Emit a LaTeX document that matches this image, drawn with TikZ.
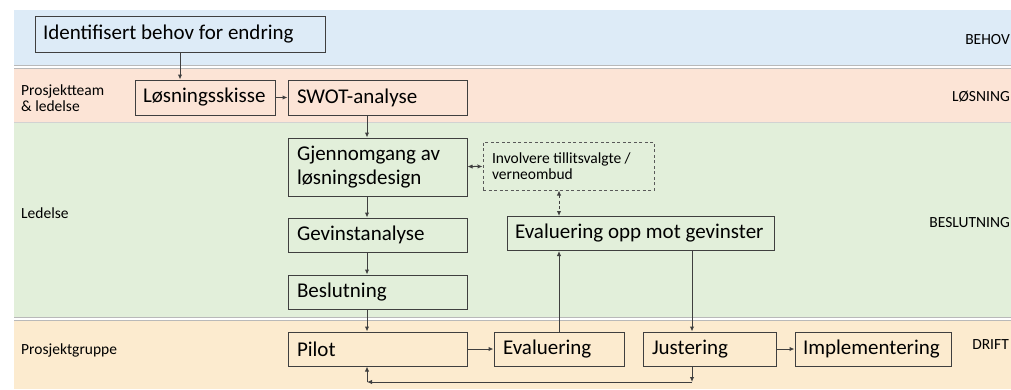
\documentclass[tikz,border=0pt]{standalone}
\usepackage{fontspec}
\setmainfont{Carlito}
\usetikzlibrary{positioning, arrows.meta}
\definecolor{bandBlue}{HTML}{DDEBF7}
\definecolor{bandSalmon}{HTML}{FCE4D6}
\definecolor{bandGreen}{HTML}{E2EFDA}
\definecolor{bandYellow}{HTML}{FCEBCF}
\definecolor{boxLine}{HTML}{3F3F3F}
\begin{document}
\begin{tikzpicture}[x=1pt, y=-1pt,
    box/.style={rectangle, draw=boxLine, line width=1pt, inner xsep=9pt,
                inner ysep=0pt, minimum height=34pt, text width=#1,
                font=\fontsize{21}{24}\selectfont, align=flush left},
    box/.default=161pt,
    dbox/.style={box=#1, draw=black!65, dashed, dash pattern=on 3pt off 2.5pt,
                 minimum height=48pt, font=\fontsize{15.5}{16}\selectfont},
    arr/.style={-{Latex[length=5pt, width=4.5pt]}, line width=1pt, draw=boxLine},
    arrboth/.style={{Latex[length=5pt, width=4.5pt]}-{Latex[length=5pt, width=4.5pt]},
                    line width=1pt, draw=boxLine},
    lane/.style={font=\fontsize{15.5}{16}\selectfont, anchor=west, align=left, inner sep=0pt},
    phase/.style={font=\fontsize{15.5}{16}\selectfont, anchor=east, inner sep=0pt},
    sep/.style={draw=gray!55, line width=0.9pt}
]
\clip (0,0) rectangle (1011,389);
\fill[white] (0,0) rectangle (1011,389);

\fill[bandBlue]   (14,10)  rectangle (1011,64.5);
\fill[bandSalmon] (14,68.5) rectangle (1011,121.5);
\fill[bandGreen]  (14,123) rectangle (1011,317);
\fill[bandYellow] (14,320.5) rectangle (1011,389);
\draw[sep] (14,65.5) -- (1011,65.5);
\draw[sep] (14,68) -- (1011,68);
\draw[sep, draw=gray!35] (14,122.2) -- (1011,122.2);
\draw[sep] (14,317.5) -- (1011,317.5);
\draw[sep] (14,320.3) -- (1011,320.3);

\node[lane] (lnPT)  at (21,98)  {Prosjektteam\\\& ledelse};
\node[lane] (lnLed) at (21,213) {Ledelse};
\node[lane] (lnPG)  at (21,350) {Prosjektgruppe};

\node[phase] (phBehov) at (1010,40)  {BEHOV};
\node[phase] (phLosn)  at (1010,97)  {LØSNING};
\node[phase] (phBesl)  at (1010,223) {BESLUTNING};
\node[phase] (phDrift) at (1009,345) {DRIFT};

\node[box=274pt, inner xsep=8pt, minimum height=36pt] (behov) at (180,34)
    {Identifisert behov for endring};
\node[box=124pt, inner xsep=8pt, minimum height=35pt] (skisse) at (205,97.5)
    {Løsningsskisse};
\node[box, minimum height=35pt, right=12pt of skisse] (swot) {SWOT-analyse};
\node[box, minimum height=58pt, below=22pt of swot] (gjennom)
    {Gjennomgang av\\løsningsdesign};
\node[box, below=21pt of gjennom] (gevinst) {Gevinstanalyse};
\node[box, below=22pt of gevinst] (beslut) {Beslutning};
\node[box, below=22pt of beslut] (pilot) {Pilot};
\node[box=112pt, right=26pt of pilot] (eval) {Evaluering};
\node[box=115pt, right=18pt of eval] (just) {Justering};
\node[box=140pt, inner xsep=8pt, right=18pt of just] (impl) {Implementering};
\node[box=251pt, inner xsep=8pt] (evalgev) at (640.5,233.5)
    {\mbox{Evaluering opp mot gevinster}};
\node[dbox=153pt] (involv) at (568.5,166)
    {Involvere tillitsvalgte /\\verneombud};

\coordinate (spine) at (367,0);
\coordinate (down)  at (692,0);
\coordinate (loopy) at (0,382);

\draw[arr] (behov.south) -- (behov.south |- skisse.north);
\draw[arr] (skisse) -- (swot);
\draw[arr] (spine |- swot.south) -- (spine |- gjennom.north);
\draw[arrboth] (gjennom) -- (involv);
\draw[arrboth, dashed, dash pattern=on 3pt off 2.5pt] (eval |- involv.south) -- (eval |- evalgev.north);
\draw[arr] (spine |- gjennom.south) -- (spine |- gevinst.north);
\draw[arr] (spine |- gevinst.south) -- (spine |- beslut.north);
\draw[arr] (spine |- beslut.south) -- (spine |- pilot.north);
\draw[arr] (pilot) -- (eval);
\draw[arr] (eval.north) -- (eval |- evalgev.south);
\draw[arr] (down |- evalgev.south) -- (down |- just.north);
\draw[arr] (just) -- (impl);
\draw[arr] (down |- just.south) -- (down |- loopy);
\draw[arr] (down |- loopy) -- (spine |- loopy);
\draw[arr] (spine |- loopy) -- (spine |- pilot.south);

\end{tikzpicture}
\end{document}
